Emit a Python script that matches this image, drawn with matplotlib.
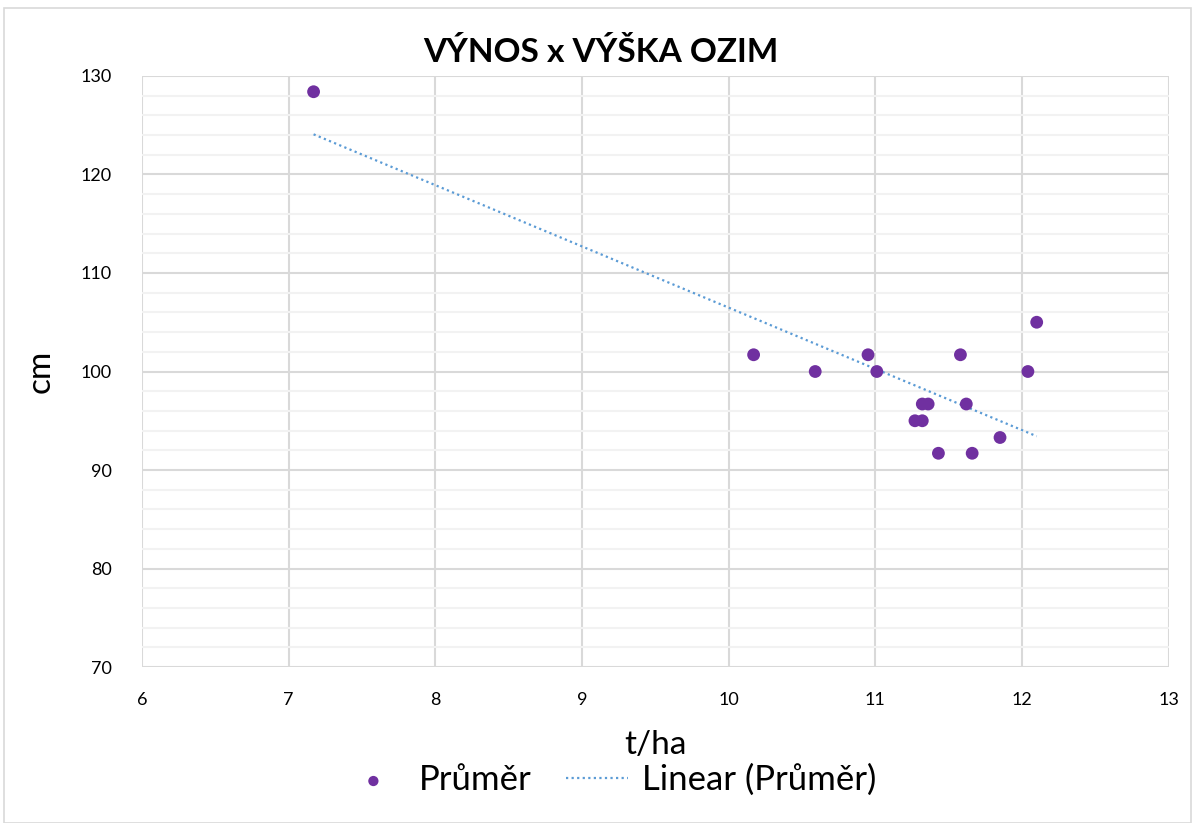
import matplotlib
matplotlib.use('Agg')
import matplotlib.pyplot as plt
import numpy as np
from matplotlib.patches import Rectangle

# data
vynos = [7.17, 10.17, 10.59, 10.95, 11.01, 11.27, 11.32, 11.32, 11.36, 11.43,
         11.58, 11.62, 11.66, 11.85, 12.04, 12.10]
vyska = [128.4, 101.7, 100.0, 101.7, 100.0, 95.0, 95.0, 96.7, 96.7, 91.7,
         101.7, 96.7, 91.7, 93.3, 100.0, 105.0]

TITLE = "VÝNOS x VÝŠKA OZIM"
X_LABEL = "t/ha"
Y_LABEL = "cm"
SERIES = "Průměr"
TREND = "Linear (Průměr)"

plt.rcParams['font.family'] = ['Lato', 'DejaVu Sans']

fig = plt.figure(figsize=(11.95, 8.23), dpi=100)
ax = fig.add_axes([0.1188, 0.1895, 0.978 - 0.1188, 0.9077 - 0.1895])

# grid
ax.set_xlim(6, 13)
ax.set_ylim(70, 130)
ax.set_xticks(np.arange(6, 14, 1))
ax.set_yticks(np.arange(70, 131, 10))
ax.set_yticks(np.arange(70, 131, 2), minor=True)
ax.grid(which='major', color='#d9d9d9', linewidth=1.5, zorder=0)
ax.grid(which='minor', axis='y', color='#f2f2f2', linewidth=1.5, zorder=0)
for s in ax.spines.values():
    s.set_visible(False)
ax.tick_params(which='both', length=0, labelsize=13)
ax.tick_params(axis='x', pad=18)
ax.tick_params(axis='y', pad=22)
ax.set_axisbelow(True)

# points
ax.scatter(vynos, vyska, s=85, color='#7030a0', zorder=3, label=SERIES,
           edgecolors='none')

# linear trend
k, q = np.polyfit(vynos, vyska, 1)
xs = np.array([min(vynos), max(vynos)])
ax.plot(xs, k * xs + q, linestyle=(0, (1, 1.5)), color='#5b9bd5',
        linewidth=1.6, zorder=2, label=TREND)

fig.text(0.503, 1 - 52 / 823, TITLE, fontsize=24, fontweight='bold',
         ha='center', va='center')
ax.set_xlabel(X_LABEL, fontsize=24, labelpad=16)
ax.set_ylabel(Y_LABEL, fontsize=24, labelpad=18)

handles, labels = ax.get_legend_handles_labels()
fig.legend(handles, labels, loc='center', bbox_to_anchor=(0.51, 1 - 780 / 823),
           ncol=2, frameon=False, fontsize=25, handlelength=1.8,
           columnspacing=1.0, markerscale=0.8, handletextpad=0.4)

fig.patches.append(Rectangle((0.003, 0.0), 0.994, 0.99, transform=fig.transFigure,
                             fill=False, edgecolor='#d9d9d9', linewidth=1.2))

fig.savefig('out.png', dpi=100)
